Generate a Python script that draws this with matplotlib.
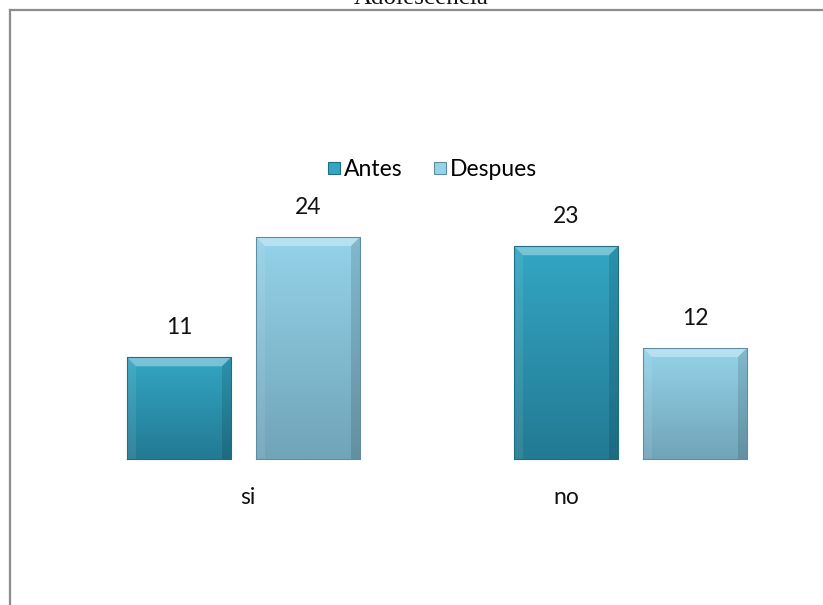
import matplotlib
matplotlib.use("Agg")
import matplotlib.pyplot as plt
import numpy as np
from matplotlib.patches import Polygon
from matplotlib.lines import Line2D

title = "Adolescencia"
categories = ["si", "no"]
series_names = ["Antes", "Despues"]
antes = [11, 23]
despues = [24, 12]

W, H = 823, 605
fig = plt.figure(figsize=(W / 100, H / 100), dpi=100)
ax = fig.add_axes([0, 0, 1, 1])
ax.set_axis_off()

# pixel mapping
px_unit_x = 387.0
x0_px = 243.5
base_px = 459.0
px_unit_y = 9.25
ax.set_xlim(-x0_px / px_unit_x, (W - x0_px) / px_unit_x)
ax.set_ylim(-(H - base_px) / px_unit_y, base_px / px_unit_y)

width = 104 / px_unit_x
offset = 64.5 / px_unit_x
x = np.arange(len(categories))

colors_top = ["#33a6c4", "#94d3ea"]
colors_bot = ["#237a93", "#71a4b8"]
edge_col = ["#1f6d83", "#5f8ea2"]

fonts = ["Lato", "DejaVu Sans"]

for si, (vals, name) in enumerate([(antes, "Antes"), (despues, "Despues")]):
    pos = x + (-offset if si == 0 else offset)
    bars = ax.bar(pos, vals, width, color=colors_top[si], edgecolor="none",
                  zorder=2, label=name)
    for b, v in zip(bars, vals):
        bx, by = b.get_x(), b.get_y()
        bw, bh = b.get_width(), b.get_height()
        # vertical gradient
        c1 = np.array(matplotlib.colors.to_rgb(colors_top[si]))
        c2 = np.array(matplotlib.colors.to_rgb(colors_bot[si]))
        t = np.linspace(0, 1, 100)[:, None]
        grad = (c2 * (1 - t) + c1 * t)[:, None, :]
        grad = np.repeat(grad, 2, axis=1)
        im = ax.imshow(grad, extent=[bx, bx + bw, by, by + bh], origin="lower",
                       aspect="auto", zorder=3, interpolation="bilinear")
        im.set_clip_path(b)
        # bevel: top highlight, side shading
        bev_x = 9 / px_unit_x
        bev_y = 9 / px_unit_y
        top = Polygon([[bx, by + bh], [bx + bw, by + bh],
                       [bx + bw - bev_x, by + bh - bev_y], [bx + bev_x, by + bh - bev_y]],
                      closed=True, facecolor="white", alpha=0.35, edgecolor="none", zorder=4)
        ax.add_patch(top)
        left = Polygon([[bx, by], [bx, by + bh], [bx + bev_x, by + bh - bev_y], [bx + bev_x, by]],
                       closed=True, facecolor="white", alpha=0.08, edgecolor="none", zorder=4)
        ax.add_patch(left)
        right = Polygon([[bx + bw, by], [bx + bw, by + bh], [bx + bw - bev_x, by + bh - bev_y],
                         [bx + bw - bev_x, by]],
                        closed=True, facecolor="black", alpha=0.12, edgecolor="none", zorder=4)
        ax.add_patch(right)
        ax.plot([bx, bx + bw, bx + bw, bx, bx], [by, by, by + bh, by + bh, by],
                color=edge_col[si], lw=0.8, zorder=5)
        ax.annotate(str(v), (bx + bw / 2, by + bh), xytext=(0, 14),
                    textcoords="offset points", ha="center", va="bottom",
                    fontsize=16.5, family=fonts, color="#111111")

# category labels
label_shift_px = [4, -64]
for i, c in enumerate(categories):
    ax.text(x[i] + label_shift_px[i] / px_unit_x, -(497 - base_px) / px_unit_y, c,
            ha="center", va="center", fontsize=16.5, family=fonts, color="#111111")

handles = [Line2D([], [], marker="s", linestyle="none", markersize=9,
                  markerfacecolor=colors_top[i], markeredgecolor=edge_col[i],
                  markeredgewidth=0.8) for i in range(2)]
leg = fig.legend(handles, series_names, loc="center", bbox_to_anchor=(431 / W, 1 - 170 / H),
                 ncol=2, frameon=False, prop={"family": fonts, "size": 16.5},
                 handletextpad=0.05, columnspacing=1.2, handlelength=0.8)

# frame lines (left and top)
fig.add_artist(Line2D([9.5 / W, 9.5 / W], [0, 1 - 9.5 / H], transform=fig.transFigure,
                      color="#8c8c8c", lw=1.6))
fig.add_artist(Line2D([9.5 / W, 1], [1 - 9.5 / H, 1 - 9.5 / H], transform=fig.transFigure,
                      color="#8c8c8c", lw=1.6))

fig.text(421 / W, 1 - 4 / H, title, ha="center", va="baseline",
         family=["Liberation Serif", "DejaVu Serif"], fontsize=18, color="#111111")

fig.savefig("out.png", dpi=100)
